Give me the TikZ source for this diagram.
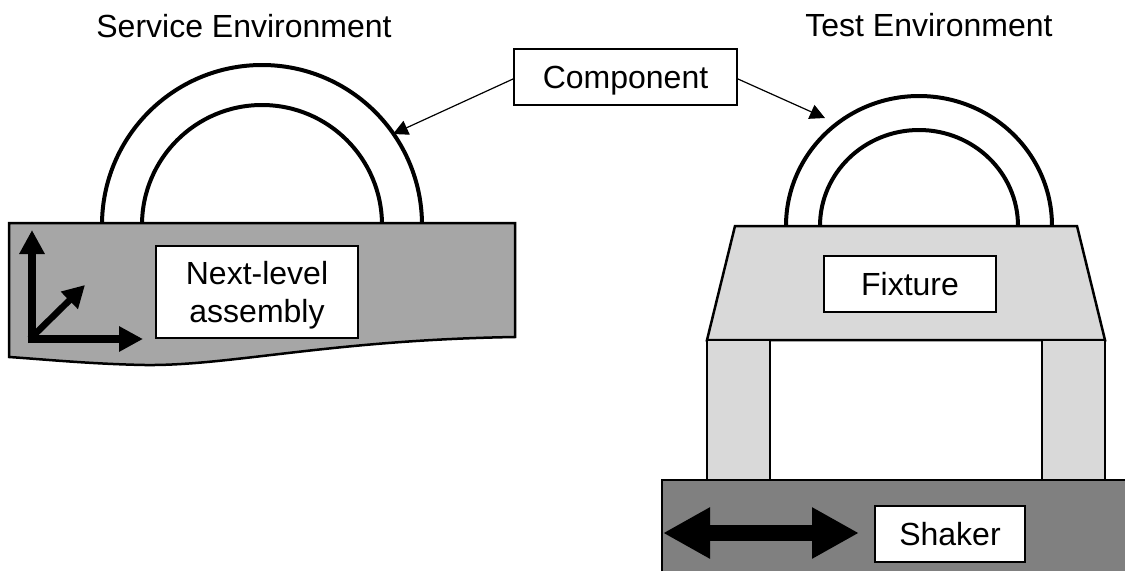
\documentclass[tikz,border=0pt]{standalone}
\usepackage{fontspec}
\setmainfont{Liberation Sans}
\usetikzlibrary{calc,positioning,arrows.meta}
\tikzset{
  caption/.style={font=\fontsize{32}{38}\selectfont,align=center,inner sep=0pt},
  tagbox/.style={draw=black,line width=2pt,fill=white,align=center,inner sep=0pt,text depth=0pt,font=\fontsize{32}{38}\selectfont},
  bigline/.style={draw=black,line width=4pt},
  partline/.style={draw=black,line width=2.5pt},
  pointer/.style={draw=black,line width=1.2pt,-{Triangle[length=15pt,width=15pt]}},
}
\definecolor{plategray}{HTML}{A6A6A6}
\definecolor{fixturegray}{HTML}{D9D9D9}
\definecolor{shakergray}{HTML}{808080}
\begin{document}
\begin{tikzpicture}[x=1pt,y=-1pt]
\newcommand{\drawtag}[6]{\node[tagbox,minimum width=#4pt,minimum height=#5pt] (#1) at (#2,#3) {#6};}
\newcommand{\drawdome}[4]{\draw[bigline] (#1-#3,#2) arc[start angle=180,end angle=360,x radius=#3,y radius=#4];}
\useasboundingbox (0,0) rectangle (1125,571);
\drawdome{262}{225}{160}{160}
\drawdome{262}{225}{120}{120}
\drawdome{919}{226}{133}{130}
\drawdome{919}{226}{99}{96}
\draw[partline,fill=plategray] (9,223) -- (515,223) -- (515,337) .. controls (330,340) and (230,366) .. (145,365) .. controls (90,364) and (40,359) .. (9,357) -- cycle;
\fill[shakergray] (662,480) rectangle (1125,571);
\draw[partline] (662,571) -- (662,480) -- (1125,480);
\draw[partline,fill=fixturegray] (735,226) -- (1077,226) -- (1105,340) -- (707,340) -- cycle;
\draw[partline,fill=fixturegray] (707,340) rectangle (770,480);
\draw[partline,fill=fixturegray] (1042,340) rectangle (1105,480);
\node[caption] (service) at (244,26) {Service Environment};
\node[caption] (test) at (929,25) {Test Environment};
\drawtag{component}{625.5}{77}{223}{56}{Component}
\drawtag{assembly}{257}{291.5}{202}{92}{Next-level\\assembly}
\drawtag{fixture}{910}{284}{172}{56}{Fixture}
\drawtag{shaker}{950}{534}{150}{56}{Shaker}
\coordinate (domeleft) at (393,134);
\coordinate (domeright) at (825,118);
\draw[pointer] (component.west |- 0,79) -- (domeleft);
\draw[pointer] (component.east |- 0,79) -- (domeright);
\coordinate (origin) at (32,343);
\coordinate (axisup) at (32,230);
\coordinate (axisright) at (143,339);
\coordinate (axisback) at (85,285);
\coordinate (axisstart) at (28,339);
\coordinate (strokeleft) at (663,533);
\coordinate (strokeright) at (859,533);
\draw[line width=8pt,-{Triangle[length=24pt,width=24pt]}] (origin) -- (axisup);
\draw[line width=6.5pt,-{Triangle[length=22pt,width=23pt]}] (30,339) -- (axisback);
\draw[line width=8pt,-{Triangle[length=24pt,width=24pt]}] (axisstart) -- (axisright);
\draw[line width=16pt,{Triangle[length=47pt,width=48pt]}-{Triangle[length=47pt,width=48pt]}] (strokeleft) -- (strokeright);
\end{tikzpicture}
\end{document}
